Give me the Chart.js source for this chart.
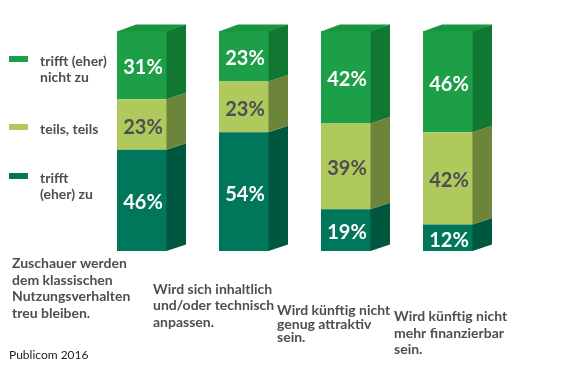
<!DOCTYPE html>
<html><head><meta charset="utf-8">
<script src="https://cdn.jsdelivr.net/npm/chart.js@4"></script>
<style>html,body{margin:0;padding:0;background:#fff}#wrap{width:567px;height:368px;position:relative}</style>
</head><body><div id="wrap"><canvas id="c"></canvas></div>
<script>
// ---- data ----
const categories = [
  ["Zuschauer werden", "dem klassischen", "Nutzungsverhalten", "treu bleiben."],
  ["Wird sich inhaltlich", "und/oder technisch", "anpassen."],
  ["Wird künftig nicht", "genug attraktiv", "sein."],
  ["Wird künftig nicht", "mehr finanzierbar", "sein."]
];
const seriesNames = ["trifft (eher) zu", "teils, teils", "trifft (eher) nicht zu"];
const legendLines = [["trifft (eher)", "nicht zu"], ["teils, teils"], ["trifft", "(eher) zu"]];
const valuesZu = [46, 54, 19, 12];
const valuesTeils = [23, 23, 39, 42];
const valuesNichtZu = [31, 23, 42, 46];
const sourceNote = "Publicom 2016";

// ---- styles / layout ----
const frontColors = ["#00775a", "#b0c95d", "#1c9f47"];
const sideColors = ["#00573f", "#6c853b", "#117831"];
const topColor = "#18953f";
const textGray = "#4a5050";
const DX = 19, DY = -6.5;
const labelLayout = [
  { dx: -130, y: 268, lh: 16.7 },
  { dx: -91, y: 293.5, lh: 16.5 },
  { dx: -69, y: 315, lh: 13.5 },
  { dx: -54, y: 321, lh: 16.7 }
];
const legendLayout = [ { ds: 2, y: 59 }, { ds: 1, y: 127 }, { ds: 0, y: 176 } ];

const threeD = {
  id: 'threeD',
  afterDatasetsDraw(chart) {
    const ctx = chart.ctx;
    const n = chart.data.datasets.length;
    ctx.save();
    chart.data.datasets.forEach((ds, di) => {
      const meta = chart.getDatasetMeta(di);
      meta.data.forEach((bar) => {
        const p = bar.getProps(['x', 'y', 'base', 'width'], true);
        const l = p.x - p.width / 2, r = p.x + p.width / 2;
        const t = Math.min(p.y, p.base), b = Math.max(p.y, p.base);
        ctx.fillStyle = sideColors[di];
        ctx.beginPath();
        ctx.moveTo(r - 0.5, t); ctx.lineTo(r + DX, t + DY);
        ctx.lineTo(r + DX, b + DY); ctx.lineTo(r - 0.5, b);
        ctx.closePath(); ctx.fill();
        if (di === n - 1) {
          ctx.fillStyle = topColor;
          ctx.beginPath();
          ctx.moveTo(l, t + 0.5); ctx.lineTo(l + DX, t + DY);
          ctx.lineTo(r + DX, t + DY); ctx.lineTo(r, t + 0.5);
          ctx.closePath(); ctx.fill();
        }
      });
    });
    // value labels
    ctx.font = "bold 20px Lato";
    ctx.textAlign = "center";
    ctx.textBaseline = "alphabetic";
    chart.data.datasets.forEach((ds, di) => {
      const meta = chart.getDatasetMeta(di);
      meta.data.forEach((bar, i) => {
        const p = bar.getProps(['x', 'y', 'base'], true);
        const cy = (p.y + p.base) / 2;
        ctx.fillStyle = di === 1 ? textGray : "#ffffff";
        ctx.fillText(ds.data[i] + "%", p.x + 1, cy + 9);
      });
    });
    ctx.restore();
  },
  afterDraw(chart) {
    const ctx = chart.ctx;
    const xs = chart.scales.x;
    ctx.save();
    ctx.fillStyle = textGray;
    ctx.font = "bold 14px Lato";
    ctx.textAlign = "left";
    ctx.textBaseline = "alphabetic";
    chart.data.labels.forEach((lines, i) => {
      const L = labelLayout[i];
      const x0 = xs.getPixelForValue(i) + L.dx;
      lines.forEach((s, k) => ctx.fillText(s, x0, L.y + k * L.lh));
    });
    // legend
    legendLayout.forEach((it) => {
      ctx.fillStyle = frontColors[it.ds];
      ctx.fillRect(9, it.y - 3, 19, 6);
      ctx.fillStyle = textGray;
      legendLines[it.ds === 2 ? 0 : it.ds === 1 ? 1 : 2].forEach((s, k) =>
        ctx.fillText(s, 40, it.y + 7 + k * 16));
    });
    // source
    ctx.fillStyle = "#222222";
    ctx.font = "12px Lato";
    ctx.fillText(sourceNote, 9, 359);
    ctx.restore();
  }
};

const values = [valuesZu, valuesTeils, valuesNichtZu];
new Chart(document.getElementById('c'), {
  type: 'bar',
  data: {
    labels: categories,
    datasets: values.map((v, i) => ({
      label: seriesNames[i],
      data: v,
      backgroundColor: frontColors[i],
      borderWidth: 0,
      categoryPercentage: 1,
      barPercentage: 0.49
    }))
  },
  options: {
    responsive: true,
    maintainAspectRatio: false,
    animation: false,
    layout: { padding: { left: 91, right: 68, top: 31, bottom: 117 } },
    plugins: { legend: { display: false }, tooltip: { enabled: false } },
    scales: {
      x: { stacked: true, display: false },
      y: { stacked: true, display: false, min: 0, max: 100 }
    }
  },
  plugins: [threeD]
});
</script>
</body></html>
